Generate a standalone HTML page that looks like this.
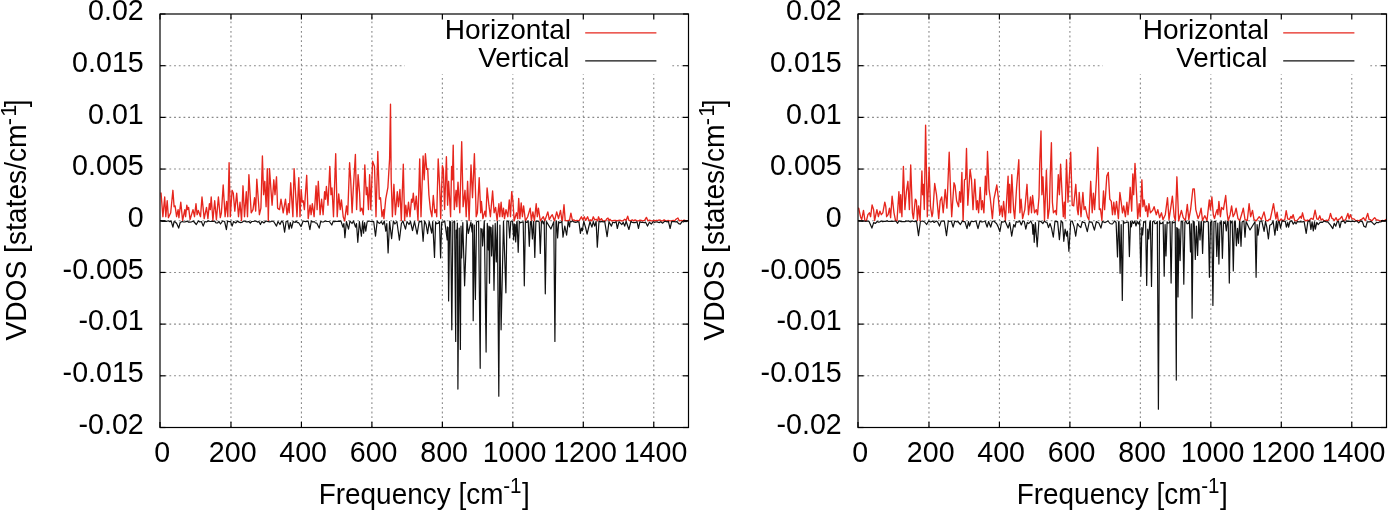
<!DOCTYPE html>
<html><head><meta charset="utf-8"><title>VDOS</title>
<style>
html,body{margin:0;padding:0;background:#fff;}
body{width:1388px;height:510px;overflow:hidden;}
svg{display:block;will-change:transform;filter:blur(0.5px);}
.tl{font-family:"Liberation Sans",sans-serif;font-size:29.2px;fill:#000;}
.g{stroke:#888888;stroke-width:1.1;stroke-dasharray:1.8 2.9;fill:none;}
.t{stroke:#000;stroke-width:1.2;fill:none;}
.b{stroke:#000;stroke-width:1.2;fill:none;}
.r{stroke:#e6261d;stroke-width:1.35;fill:none;stroke-linejoin:round;}
.k{stroke:#111;stroke-width:1.2;fill:none;stroke-linejoin:round;}
</style></head><body>
<svg width="1388" height="510" viewBox="0 0 1388 510">
<rect width="1388" height="510" fill="#fff"/>
<line x1="160.00" y1="65.69" x2="688.50" y2="65.69" class="g"/>
<line x1="160.00" y1="117.38" x2="688.50" y2="117.38" class="g"/>
<line x1="160.00" y1="169.06" x2="688.50" y2="169.06" class="g"/>
<line x1="160.00" y1="220.75" x2="688.50" y2="220.75" class="g"/>
<line x1="160.00" y1="272.44" x2="688.50" y2="272.44" class="g"/>
<line x1="160.00" y1="324.12" x2="688.50" y2="324.12" class="g"/>
<line x1="160.00" y1="375.81" x2="688.50" y2="375.81" class="g"/>
<line x1="230.97" y1="427.50" x2="230.97" y2="14.00" class="g"/>
<line x1="301.43" y1="427.50" x2="301.43" y2="14.00" class="g"/>
<line x1="371.90" y1="427.50" x2="371.90" y2="14.00" class="g"/>
<line x1="442.37" y1="427.50" x2="442.37" y2="14.00" class="g"/>
<line x1="512.83" y1="427.50" x2="512.83" y2="14.00" class="g"/>
<line x1="583.30" y1="427.50" x2="583.30" y2="14.00" class="g"/>
<line x1="653.77" y1="427.50" x2="653.77" y2="14.00" class="g"/>
<path d="M161.0,192.5 L162.9,216.7 L164.7,197.0 L165.8,216.7 L167.2,200.7 L168.4,217.7 L170.7,212.8 L172.9,190.3 L174.1,206.7 L175.1,205.9 L176.6,216.7 L178.1,209.6 L178.9,217.7 L180.8,202.2 L182.6,220.5 L184.8,209.6 L185.6,216.7 L186.8,205.2 L187.7,209.6 L188.6,207.4 L190.1,219.6 L193.0,209.6 L194.5,216.7 L196.0,203.7 L197.1,214.7 L198.3,210.4 L200.5,216.7 L202.0,197.0 L204.2,218.6 L206.5,207.4 L207.9,218.6 L209.4,203.7 L210.3,209.6 L211.2,197.0 L212.9,220.5 L214.7,200.7 L216.4,219.6 L218.4,197.0 L220.3,217.7 L221.4,212.8 L223.2,185.0 L225.1,216.7 L226.6,201.4 L227.8,216.7 L229.1,162.7 L230.3,216.7 L232.1,190.3 L233.3,193.2 L234.8,211.1 L236.7,193.2 L238.5,216.7 L240.0,202.2 L241.5,220.5 L243.0,185.8 L244.5,216.7 L246.3,191.7 L247.5,216.7 L248.9,174.6 L251.2,212.8 L253.0,209.6 L254.6,197.7 L255.7,211.1 L256.8,179.1 L259.4,214.7 L260.9,208.1 L262.4,156.0 L263.6,194.7 L264.8,181.3 L266.1,206.7 L267.3,168.6 L268.3,220.5 L269.5,168.6 L271.3,194.7 L272.1,205.2 L273.8,179.8 L275.0,194.7 L276.5,176.8 L277.6,208.1 L279.5,209.6 L281.0,199.2 L283.2,212.8 L285.5,199.2 L287.0,214.7 L288.5,203.7 L289.2,212.8 L290.7,182.8 L292.9,216.7 L294.1,168.6 L297.0,216.7 L298.8,177.6 L300.0,216.7 L301.2,189.5 L302.2,202.2 L303.2,200.7 L304.4,209.6 L306.7,175.3 L308.2,218.6 L310.1,205.2 L311.1,214.7 L312.3,203.7 L314.1,216.7 L316.1,185.8 L317.1,209.6 L318.3,181.3 L320.1,214.7 L321.6,199.2 L323.1,214.7 L324.6,191.7 L325.5,199.2 L326.4,186.5 L328.0,205.2 L329.8,166.4 L331.0,194.7 L332.0,188.0 L333.5,216.7 L335.7,153.7 L337.2,216.7 L338.7,194.0 L340.2,209.6 L341.4,199.9 L343.2,216.7 L344.7,220.9 L346.5,205.9 L347.7,214.7 L349.6,162.7 L350.7,179.8 L352.1,212.8 L353.3,188.8 L355.4,154.5 L356.6,209.6 L358.1,174.6 L359.6,193.2 L360.3,211.1 L361.8,208.1 L363.3,214.7 L364.8,164.9 L366.3,194.7 L367.1,187.3 L368.5,209.6 L369.6,174.6 L370.8,209.6 L372.6,161.2 L374.5,166.4 L376.0,216.7 L377.8,151.5 L379.3,199.2 L380.5,197.7 L382.0,216.7 L383.5,209.6 L383.9,218.6 L385.7,199.2 L387.9,187.3 L389.6,158.9 L390.5,104.2 L391.2,179.8 L392.4,216.7 L393.9,184.3 L395.4,214.7 L397.3,191.7 L398.4,206.7 L399.9,189.5 L401.3,220.5 L403.3,164.2 L404.6,220.5 L405.8,205.2 L407.0,216.7 L408.5,202.2 L410.0,216.7 L411.5,199.2 L412.4,202.2 L413.3,193.2 L414.8,209.6 L416.3,196.2 L418.0,220.5 L419.7,158.9 L421.0,216.7 L423.1,156.0 L424.2,179.8 L425.4,153.7 L426.7,169.4 L427.7,168.6 L428.9,194.7 L430.4,209.6 L431.9,216.7 L433.3,195.5 L434.8,212.8 L436.0,209.6 L436.7,216.7 L438.2,158.9 L439.7,187.3 L440.7,218.6 L442.4,165.7 L443.4,169.4 L444.6,209.6 L446.4,156.7 L447.6,205.2 L448.6,181.3 L450.6,216.7 L451.6,166.4 L452.4,179.8 L453.2,145.1 L454.3,209.6 L456.1,190.3 L456.8,206.7 L458.0,182.1 L459.8,212.8 L461.7,141.7 L463.1,206.7 L465.0,190.3 L466.2,216.7 L467.6,181.3 L469.1,220.5 L471.0,164.9 L472.5,197.7 L474.4,153.7 L476.2,216.7 L477.4,212.8 L479.2,177.6 L480.7,212.8 L481.4,201.4 L482.9,218.6 L484.9,211.1 L485.9,216.7 L487.1,188.0 L488.9,205.2 L490.4,216.7 L492.6,191.0 L494.1,212.8 L495.6,207.4 L497.1,220.5 L498.9,203.7 L499.8,216.7 L501.1,202.2 L502.3,216.7 L503.5,208.1 L504.5,218.6 L506.0,209.6 L507.8,216.7 L509.3,199.9 L510.5,216.7 L511.7,191.7 L512.9,200.7 L514.2,220.9 L516.5,212.8 L517.7,218.6 L518.7,198.5 L519.9,218.6 L521.2,202.9 L522.4,216.7 L523.6,205.9 L525.4,220.9 L527.7,216.7 L530.2,208.1 L531.4,220.5 L532.9,211.9 L534.4,220.9 L536.2,203.7 L537.3,216.7 L538.4,208.1 L540.3,220.9 L543.3,216.7 L544.8,220.9 L547.8,211.9 L549.3,219.6 L550.8,216.7 L552.3,214.7 L554.5,220.9 L556.7,211.9 L558.5,218.6 L560.5,210.4 L561.9,220.5 L562.4,220.9 L564.0,204.7 L565.2,220.4 L567.1,220.9 L568.3,220.5 L569.5,220.4 L570.9,213.1 L572.4,220.4 L573.8,219.9 L575.2,220.9 L577.1,220.4 L579.0,220.9 L581.4,216.8 L582.8,219.9 L584.3,216.8 L585.7,220.4 L587.6,216.8 L589.0,220.9 L590.4,219.9 L591.9,220.9 L593.3,216.8 L594.7,219.9 L596.1,219.3 L597.6,220.9 L598.5,216.8 L599.9,220.4 L601.4,218.6 L602.8,220.9 L604.2,220.9 L605.6,220.9 L606.8,218.8 L608.0,218.0 L609.0,220.9 L609.9,219.3 L611.4,220.9 L612.8,220.7 L614.2,220.5 L615.6,220.5 L617.1,220.9 L618.5,220.3 L619.9,220.2 L621.3,220.8 L622.8,220.9 L624.7,219.3 L626.1,220.4 L627.7,216.2 L628.9,220.4 L630.4,220.9 L632.3,219.9 L633.7,220.9 L635.1,219.9 L637.0,220.9 L638.5,220.8 L639.9,220.1 L641.3,220.5 L642.7,220.9 L644.6,220.4 L646.4,217.4 L648.0,220.9 L649.6,220.2 L651.3,220.9 L652.6,220.8 L653.8,220.5 L655.1,220.9 L656.4,220.3 L657.6,220.7 L658.9,220.0 L660.2,220.1 L661.4,220.8 L662.7,220.9 L664.1,219.9 L665.6,220.9 L666.8,220.8 L668.1,220.4 L669.4,220.9 L671.3,220.9 L673.2,220.4 L674.6,220.9 L676.0,219.3 L677.9,218.0 L679.4,220.9 L681.3,220.4 L682.7,220.9 L684.1,220.1 L685.5,220.6 L687.0,220.7 L688.6,220.9" class="r"/>
<path d="M160.3,220.9 L161.5,221.1 L162.7,221.4 L163.9,221.2 L165.1,221.4 L166.3,221.5 L167.5,221.0 L168.7,220.9 L169.9,221.7 L171.1,220.9 L172.9,227.1 L174.1,221.5 L175.3,222.0 L176.7,223.5 L178.7,228.1 L180.2,222.5 L182.2,221.5 L183.5,222.0 L184.7,222.0 L186.0,221.7 L187.3,221.0 L188.6,222.2 L189.9,222.1 L191.3,222.0 L193.3,221.0 L196.3,224.5 L198.3,221.0 L199.9,222.0 L201.4,221.5 L203.2,226.1 L204.9,221.5 L206.4,222.0 L208.4,220.9 L209.6,221.3 L210.9,221.5 L212.1,221.1 L213.3,221.5 L214.5,221.0 L216.0,222.8 L217.5,223.0 L219.0,221.5 L220.5,224.0 L222.6,221.0 L224.6,221.5 L226.4,229.7 L227.6,221.0 L229.1,221.7 L230.6,221.5 L232.1,226.1 L233.6,221.5 L235.7,223.0 L237.7,221.0 L239.0,222.2 L240.4,222.6 L241.7,222.5 L243.7,221.0 L245.0,221.2 L246.3,221.9 L247.5,221.9 L248.8,221.5 L250.3,223.0 L251.8,221.5 L253.3,221.5 L254.8,221.0 L256.2,221.2 L257.5,222.1 L258.9,221.5 L260.4,224.5 L261.9,221.5 L263.9,223.0 L265.9,221.0 L267.1,221.4 L268.3,221.6 L269.6,221.8 L270.8,221.6 L272.0,221.0 L274.0,222.0 L276.5,226.1 L278.0,221.5 L280.0,224.5 L281.6,221.0 L283.1,222.5 L284.6,232.2 L286.1,221.5 L287.6,221.0 L289.1,229.1 L290.3,222.5 L291.6,228.1 L293.2,221.5 L295.2,222.5 L296.0,221.0 L297.3,222.6 L298.5,222.5 L301.1,226.6 L303.1,221.0 L304.3,221.3 L305.6,221.7 L306.9,221.4 L308.1,221.0 L309.9,229.7 L311.3,221.0 L312.8,222.1 L314.2,221.5 L315.4,223.0 L316.7,223.0 L319.2,228.1 L320.7,221.5 L322.0,221.8 L323.3,222.0 L325.3,221.0 L326.6,221.3 L328.0,221.5 L329.3,221.5 L331.8,225.0 L333.3,221.0 L334.6,221.8 L335.9,221.3 L337.1,221.5 L338.4,221.2 L339.6,221.4 L340.9,220.9 L342.9,227.1 L343.9,223.5 L344.9,237.7 L346.4,221.5 L348.5,229.1 L350.0,221.0 L352.0,223.5 L353.5,221.0 L355.5,227.1 L356.5,223.5 L357.8,242.3 L359.4,221.5 L361.4,236.2 L362.6,221.5 L363.6,233.2 L364.6,222.5 L365.8,231.2 L367.1,222.0 L369.1,221.0 L370.7,221.5 L372.2,221.6 L373.7,221.5 L375.5,236.2 L377.2,221.0 L378.5,222.8 L379.7,223.5 L381.2,221.5 L382.8,224.5 L384.3,221.0 L385.8,231.2 L386.8,223.5 L388.1,252.9 L389.6,221.5 L391.6,238.7 L393.4,221.0 L394.9,224.0 L396.9,221.5 L399.4,240.2 L401.4,223.5 L402.9,221.0 L405.5,229.1 L407.0,221.5 L409.0,224.5 L410.5,221.5 L412.5,230.7 L414.5,221.5 L417.1,234.2 L419.1,221.5 L420.3,221.8 L421.6,221.0 L423.1,241.3 L424.6,221.0 L426.1,224.5 L427.6,233.7 L429.2,221.5 L431.7,233.2 L432.7,221.5 L434.5,257.5 L435.6,221.8 L436.6,223.8 L437.6,223.4 L438.5,223.1 L439.5,221.4 L440.6,258.0 L441.7,222.0 L443.2,222.2 L444.7,220.9 L447.2,240.0 L447.4,226.8 L447.7,236.0 L448.1,227.6 L448.6,301.0 L449.7,221.2 L450.7,222.0 L451.8,329.8 L452.9,222.1 L453.8,221.7 L454.6,221.1 L455.7,341.4 L456.2,230.0 L456.8,238.0 L457.4,223.0 L457.9,389.1 L459.2,228.1 L460.4,349.5 L461.0,226.0 L461.6,258.0 L462.8,222.6 L464.6,285.8 L467.0,220.9 L468.3,233.5 L470.9,222.1 L472.1,232.0 L472.6,223.8 L473.2,320.7 L474.3,225.2 L475.4,299.4 L476.5,222.0 L478.6,221.0 L480.2,368.3 L480.9,228.4 L481.5,232.0 L482.1,229.2 L482.6,246.0 L484.3,220.9 L486.1,352.1 L487.3,223.4 L488.4,250.0 L488.9,226.0 L489.5,283.2 L490.1,226.8 L490.6,233.0 L491.1,227.6 L491.6,256.0 L492.9,225.2 L494.0,290.3 L495.2,223.4 L496.3,262.0 L497.4,221.4 L498.8,396.2 L499.9,225.2 L501.1,329.8 L503.5,221.4 L505.9,292.8 L506.9,220.9 L508.6,221.5 L509.7,238.0 L510.8,221.6 L511.7,221.0 L512.6,221.6 L513.7,240.0 L514.2,223.8 L514.7,236.0 L515.2,224.6 L515.7,242.0 L516.8,221.7 L517.1,221.5 L518.2,252.3 L519.3,221.4 L520.3,222.8 L521.2,222.4 L522.2,222.1 L523.2,221.8 L524.3,285.8 L525.4,221.0 L526.3,222.4 L527.3,222.1 L528.2,221.0 L529.3,246.3 L530.4,221.8 L531.3,221.4 L532.4,239.0 L533.5,221.5 L533.7,221.7 L534.8,257.5 L535.9,221.1 L537.0,221.3 L538.1,221.0 L539.2,222.1 L540.3,253.4 L541.4,222.0 L542.3,221.0 L543.3,223.8 L544.2,221.2 L545.3,293.8 L546.4,221.6 L550.9,229.0 L553.8,221.7 L554.9,341.4 L556.0,222.1 L556.5,221.1 L557.6,238.0 L558.7,221.7 L559.8,222.8 L560.8,222.4 L561.9,221.5 L563.0,237.2 L564.8,226.0 L566.6,235.2 L568.2,221.4 L569.6,227.0 L570.0,221.7 L571.2,221.9 L572.4,220.9 L573.6,221.9 L574.7,222.1 L575.9,222.4 L577.1,221.7 L579.0,222.2 L580.4,233.3 L581.4,228.0 L582.3,230.9 L583.8,221.3 L585.7,228.0 L587.1,234.2 L588.5,228.0 L590.0,221.7 L591.9,227.1 L593.3,221.7 L594.7,226.1 L596.1,221.3 L597.3,247.1 L599.0,221.3 L600.4,221.9 L601.8,221.4 L603.3,222.0 L604.7,221.3 L607.1,236.6 L609.0,221.7 L611.4,226.1 L612.8,222.2 L614.4,222.8 L616.1,221.7 L617.3,228.5 L619.0,221.7 L621.8,224.6 L623.2,222.2 L624.7,226.1 L626.1,221.3 L628.9,229.5 L630.9,221.3 L632.3,222.5 L633.7,222.7 L635.1,222.7 L637.0,221.7 L638.5,228.5 L639.9,221.7 L641.3,222.5 L642.7,222.2 L644.2,222.8 L645.6,222.2 L647.5,226.1 L649.4,222.2 L651.3,224.1 L653.2,221.7 L654.5,222.3 L655.7,222.0 L657.0,221.8 L658.3,222.5 L659.5,222.6 L660.8,221.7 L662.7,223.2 L664.6,221.3 L665.9,221.3 L667.1,222.0 L668.4,221.3 L670.1,228.5 L671.7,221.3 L673.1,221.7 L674.4,221.6 L675.7,221.9 L677.0,221.7 L678.6,223.6 L680.3,224.1 L682.2,221.3 L683.5,222.0 L684.8,221.2 L686.0,221.6 L687.3,221.0 L688.6,220.9" class="k"/>
<rect x="404.7" y="14.8" width="266.3" height="59.6" fill="#fff"/>
<line x1="160.00" y1="14.00" x2="165.50" y2="14.00" class="t"/>
<line x1="688.50" y1="14.00" x2="683.00" y2="14.00" class="t"/>
<line x1="160.00" y1="65.69" x2="165.50" y2="65.69" class="t"/>
<line x1="688.50" y1="65.69" x2="683.00" y2="65.69" class="t"/>
<line x1="160.00" y1="117.38" x2="165.50" y2="117.38" class="t"/>
<line x1="688.50" y1="117.38" x2="683.00" y2="117.38" class="t"/>
<line x1="160.00" y1="169.06" x2="165.50" y2="169.06" class="t"/>
<line x1="688.50" y1="169.06" x2="683.00" y2="169.06" class="t"/>
<line x1="160.00" y1="220.75" x2="165.50" y2="220.75" class="t"/>
<line x1="688.50" y1="220.75" x2="683.00" y2="220.75" class="t"/>
<line x1="160.00" y1="272.44" x2="165.50" y2="272.44" class="t"/>
<line x1="688.50" y1="272.44" x2="683.00" y2="272.44" class="t"/>
<line x1="160.00" y1="324.12" x2="165.50" y2="324.12" class="t"/>
<line x1="688.50" y1="324.12" x2="683.00" y2="324.12" class="t"/>
<line x1="160.00" y1="375.81" x2="165.50" y2="375.81" class="t"/>
<line x1="688.50" y1="375.81" x2="683.00" y2="375.81" class="t"/>
<line x1="160.00" y1="427.50" x2="165.50" y2="427.50" class="t"/>
<line x1="688.50" y1="427.50" x2="683.00" y2="427.50" class="t"/>
<line x1="160.00" y1="427.50" x2="160.00" y2="422.00" class="t"/>
<line x1="160.00" y1="14.00" x2="160.00" y2="19.50" class="t"/>
<line x1="230.97" y1="427.50" x2="230.97" y2="422.00" class="t"/>
<line x1="230.97" y1="14.00" x2="230.97" y2="19.50" class="t"/>
<line x1="301.43" y1="427.50" x2="301.43" y2="422.00" class="t"/>
<line x1="301.43" y1="14.00" x2="301.43" y2="19.50" class="t"/>
<line x1="371.90" y1="427.50" x2="371.90" y2="422.00" class="t"/>
<line x1="371.90" y1="14.00" x2="371.90" y2="19.50" class="t"/>
<line x1="442.37" y1="427.50" x2="442.37" y2="422.00" class="t"/>
<line x1="442.37" y1="14.00" x2="442.37" y2="19.50" class="t"/>
<line x1="512.83" y1="427.50" x2="512.83" y2="422.00" class="t"/>
<line x1="512.83" y1="14.00" x2="512.83" y2="19.50" class="t"/>
<line x1="583.30" y1="427.50" x2="583.30" y2="422.00" class="t"/>
<line x1="583.30" y1="14.00" x2="583.30" y2="19.50" class="t"/>
<line x1="653.77" y1="427.50" x2="653.77" y2="422.00" class="t"/>
<line x1="653.77" y1="14.00" x2="653.77" y2="19.50" class="t"/>
<rect x="160.00" y="14.00" width="528.50" height="413.50" class="b"/>
<text transform="translate(571.0,39.2) scale(0.985,1)" text-anchor="end" class="tl" style="font-size:28.5px">Horizontal</text>
<text transform="translate(569.4,66.7) scale(0.977,1)" text-anchor="end" class="tl" style="font-size:28.5px">Vertical</text>
<line x1="585.2" y1="32.8" x2="656.4" y2="32.8" class="r"/>
<line x1="585.2" y1="60.8" x2="656.4" y2="60.8" class="k"/>
<text transform="translate(143.7,20.2) scale(0.980,1)" text-anchor="end" class="tl">0.02</text>
<text transform="translate(143.7,71.9) scale(0.980,1)" text-anchor="end" class="tl">0.015</text>
<text transform="translate(143.7,123.6) scale(0.980,1)" text-anchor="end" class="tl">0.01</text>
<text transform="translate(143.7,175.3) scale(0.980,1)" text-anchor="end" class="tl">0.005</text>
<text transform="translate(143.7,226.9) scale(0.980,1)" text-anchor="end" class="tl">0</text>
<text transform="translate(143.7,278.6) scale(0.980,1)" text-anchor="end" class="tl">-0.005</text>
<text transform="translate(143.7,330.3) scale(0.980,1)" text-anchor="end" class="tl">-0.01</text>
<text transform="translate(143.7,382.0) scale(0.980,1)" text-anchor="end" class="tl">-0.015</text>
<text transform="translate(143.7,433.7) scale(0.980,1)" text-anchor="end" class="tl">-0.02</text>
<text transform="translate(162.2,462.0) scale(0.980,1)" text-anchor="middle" class="tl">0</text>
<text transform="translate(232.7,462.0) scale(0.980,1)" text-anchor="middle" class="tl">200</text>
<text transform="translate(303.1,462.0) scale(0.980,1)" text-anchor="middle" class="tl">400</text>
<text transform="translate(373.6,462.0) scale(0.980,1)" text-anchor="middle" class="tl">600</text>
<text transform="translate(444.1,462.0) scale(0.980,1)" text-anchor="middle" class="tl">800</text>
<text transform="translate(514.5,462.0) scale(0.980,1)" text-anchor="middle" class="tl">1000</text>
<text transform="translate(585.0,462.0) scale(0.980,1)" text-anchor="middle" class="tl">1200</text>
<text transform="translate(655.5,462.0) scale(0.980,1)" text-anchor="middle" class="tl">1400</text>
<text transform="translate(318.7,503.8) scale(0.957,1)" class="tl">Frequency [cm<tspan dy="-10.4" dx="-0.2" font-size="21.5">-1</tspan><tspan dy="10.4" dx="0.6">]</tspan></text>
<text transform="translate(26.1,340.6) rotate(-90) scale(0.966,1)" class="tl">VDOS [states/cm<tspan dy="-10.6" dx="-0.8 1.3" font-size="22.5">-1</tspan><tspan dy="10.6" dx="-2.6">]</tspan></text>
<line x1="858.00" y1="65.69" x2="1386.50" y2="65.69" class="g"/>
<line x1="858.00" y1="117.38" x2="1386.50" y2="117.38" class="g"/>
<line x1="858.00" y1="169.06" x2="1386.50" y2="169.06" class="g"/>
<line x1="858.00" y1="220.75" x2="1386.50" y2="220.75" class="g"/>
<line x1="858.00" y1="272.44" x2="1386.50" y2="272.44" class="g"/>
<line x1="858.00" y1="324.12" x2="1386.50" y2="324.12" class="g"/>
<line x1="858.00" y1="375.81" x2="1386.50" y2="375.81" class="g"/>
<line x1="928.97" y1="427.50" x2="928.97" y2="14.00" class="g"/>
<line x1="999.43" y1="427.50" x2="999.43" y2="14.00" class="g"/>
<line x1="1069.90" y1="427.50" x2="1069.90" y2="14.00" class="g"/>
<line x1="1140.37" y1="427.50" x2="1140.37" y2="14.00" class="g"/>
<line x1="1210.83" y1="427.50" x2="1210.83" y2="14.00" class="g"/>
<line x1="1281.30" y1="427.50" x2="1281.30" y2="14.00" class="g"/>
<line x1="1351.77" y1="427.50" x2="1351.77" y2="14.00" class="g"/>
<path d="M858.2,208.1 L858.7,208.1 L860.5,216.7 L861.7,219.6 L863.5,210.4 L864.9,220.5 L866.4,220.9 L867.9,214.7 L869.4,212.8 L870.6,216.7 L872.1,204.9 L873.6,209.6 L874.6,220.5 L876.9,209.6 L878.4,216.7 L879.9,211.1 L881.3,214.7 L882.8,212.8 L884.8,202.2 L885.8,206.7 L886.6,216.7 L888.1,214.7 L889.5,208.1 L890.6,217.7 L892.1,196.2 L894.0,212.8 L895.5,220.5 L897.0,220.9 L898.9,191.7 L900.0,212.8 L900.7,194.7 L901.9,216.7 L903.4,166.4 L904.9,209.6 L906.4,191.7 L907.9,181.3 L909.4,209.6 L910.7,164.9 L912.4,212.8 L913.4,218.6 L915.3,199.2 L916.4,200.7 L917.4,220.5 L918.6,205.9 L920.1,220.5 L921.9,170.9 L922.6,194.7 L923.4,184.3 L924.3,209.6 L925.6,125.1 L927.3,216.7 L929.1,167.1 L930.5,206.7 L932.0,216.7 L932.8,212.8 L934.7,183.5 L936.5,194.7 L938.7,218.6 L940.2,200.7 L941.7,197.0 L943.2,212.8 L945.2,189.5 L946.9,208.1 L949.2,152.2 L950.7,194.7 L951.7,216.7 L954.0,182.8 L955.1,185.8 L956.6,200.7 L958.6,206.7 L959.6,191.7 L960.7,202.2 L961.9,172.4 L963.1,220.9 L964.5,179.8 L965.6,179.1 L966.5,148.4 L967.8,205.2 L970.1,169.4 L971.5,179.8 L973.0,209.6 L974.8,179.1 L976.5,209.6 L977.5,200.7 L978.6,212.8 L980.2,187.3 L981.5,209.6 L982.4,200.7 L983.9,212.8 L985.4,176.1 L986.5,194.7 L987.5,151.5 L989.0,188.8 L990.2,197.7 L992.4,218.6 L993.9,199.2 L995.0,194.0 L996.8,185.0 L998.3,197.7 L999.8,214.7 L1001.2,205.9 L1002.4,216.7 L1003.6,201.4 L1005.4,220.5 L1008.1,176.1 L1008.8,212.8 L1009.6,184.3 L1010.6,212.8 L1011.8,174.6 L1013.6,209.6 L1014.7,218.6 L1016.6,187.3 L1018.8,159.7 L1019.9,212.8 L1021.1,199.2 L1022.6,218.6 L1024.8,209.6 L1027.0,184.3 L1028.5,214.7 L1030.5,197.0 L1031.5,212.8 L1032.6,195.5 L1034.5,212.8 L1036.3,209.6 L1037.5,214.7 L1039.0,197.0 L1039.7,164.9 L1041.0,130.9 L1041.9,194.7 L1043.0,176.8 L1044.5,220.5 L1046.4,170.1 L1047.9,218.6 L1049.4,208.1 L1050.1,179.8 L1051.4,142.7 L1052.4,202.2 L1053.4,212.8 L1055.4,210.4 L1056.4,214.7 L1058.3,174.6 L1059.4,194.7 L1060.6,164.2 L1062.1,194.7 L1063.3,216.7 L1064.3,202.2 L1065.1,218.6 L1066.5,159.7 L1068.0,202.2 L1069.2,179.8 L1070.7,152.2 L1072.2,205.2 L1073.7,205.9 L1075.8,184.3 L1077.3,209.6 L1078.2,214.7 L1079.2,192.5 L1081.0,216.7 L1082.9,192.5 L1084.1,209.6 L1085.2,206.7 L1087.4,216.7 L1088.9,219.6 L1090.7,181.3 L1092.2,212.8 L1093.4,193.2 L1094.6,209.6 L1096.4,179.8 L1097.8,147.3 L1099.3,209.6 L1100.5,208.9 L1101.9,220.5 L1103.5,191.0 L1104.6,209.6 L1106.8,176.1 L1108.3,172.4 L1109.8,199.2 L1111.3,201.4 L1112.5,214.7 L1113.8,202.2 L1115.0,214.7 L1116.5,201.4 L1118.4,218.6 L1119.9,192.5 L1121.1,201.4 L1122.5,212.8 L1123.7,205.9 L1125.4,216.7 L1126.9,202.2 L1128.0,214.7 L1129.5,199.2 L1130.2,187.3 L1131.7,211.1 L1132.8,173.9 L1133.7,194.7 L1135.0,163.4 L1136.6,194.7 L1137.7,218.6 L1139.2,203.7 L1140.2,216.7 L1141.9,179.8 L1142.9,206.7 L1144.1,199.9 L1145.6,211.1 L1146.6,205.9 L1147.7,216.7 L1148.9,203.7 L1150.4,212.8 L1152.6,210.4 L1154.1,206.7 L1156.3,214.7 L1157.8,209.6 L1159.6,217.7 L1161.5,212.8 L1163.0,219.6 L1165.3,214.7 L1167.5,197.7 L1169.0,219.6 L1170.5,209.6 L1172.4,196.2 L1174.2,216.7 L1175.4,220.5 L1176.9,176.8 L1178.7,220.9 L1181.4,210.4 L1183.2,217.7 L1185.4,220.5 L1187.3,204.4 L1188.8,219.6 L1190.6,209.6 L1192.9,188.8 L1194.3,188.8 L1195.8,209.6 L1198.1,218.6 L1199.6,214.7 L1201.1,208.1 L1202.5,220.5 L1204.8,215.7 L1207.0,220.5 L1209.3,199.9 L1210.4,209.6 L1211.9,197.0 L1213.3,214.7 L1214.5,218.6 L1216.0,212.8 L1217.2,209.6 L1217.9,214.7 L1218.9,201.4 L1220.4,216.7 L1221.6,207.4 L1223.4,209.6 L1225.7,195.5 L1227.1,212.8 L1228.2,220.9 L1230.1,214.7 L1231.6,205.9 L1233.1,216.7 L1234.6,213.8 L1236.1,208.1 L1238.0,218.6 L1239.8,220.5 L1242.1,212.8 L1243.3,208.1 L1245.0,219.6 L1247.3,220.5 L1249.1,203.7 L1250.6,216.7 L1252.5,210.4 L1254.0,219.6 L1256.2,220.9 L1259.2,216.7 L1261.4,219.6 L1264.0,211.9 L1265.9,220.5 L1267.9,220.9 L1269.1,219.3 L1270.2,219.5 L1272.1,210.7 L1273.5,203.6 L1274.9,212.8 L1275.9,218.9 L1277.1,212.2 L1278.2,220.1 L1279.7,220.9 L1281.1,218.9 L1282.9,220.9 L1284.8,219.5 L1286.2,210.7 L1287.7,218.9 L1289.5,219.5 L1290.9,216.4 L1291.9,218.3 L1293.1,214.6 L1294.7,220.6 L1296.6,220.9 L1298.5,218.9 L1300.4,216.4 L1301.3,218.3 L1302.5,212.8 L1304.1,219.5 L1306.0,220.9 L1307.4,220.0 L1308.8,220.9 L1310.0,219.5 L1311.2,218.3 L1313.1,219.5 L1315.1,210.2 L1316.8,218.9 L1318.2,219.5 L1319.8,215.8 L1321.1,220.1 L1322.5,218.9 L1323.9,220.9 L1325.1,220.8 L1326.4,220.1 L1327.7,220.9 L1329.1,218.9 L1330.5,213.4 L1331.9,218.3 L1333.1,218.8 L1334.2,220.6 L1336.1,217.7 L1337.5,220.9 L1338.7,219.3 L1339.9,218.9 L1341.8,216.4 L1343.2,220.6 L1344.4,220.1 L1345.5,220.1 L1347.9,213.4 L1349.1,218.9 L1350.3,214.6 L1352.1,218.9 L1354.0,218.9 L1355.9,220.9 L1357.5,220.4 L1359.2,220.9 L1360.4,219.7 L1361.5,219.5 L1363.4,217.7 L1365.3,220.6 L1367.7,213.4 L1369.1,219.5 L1370.5,219.7 L1371.9,220.9 L1373.3,219.1 L1374.7,217.7 L1376.6,220.1 L1378.0,220.0 L1379.4,220.6 L1381.3,220.9 L1382.7,220.5 L1384.1,220.9 L1386.0,219.5 L1386.4,220.0" class="r"/>
<path d="M858.2,220.9 L859.5,221.1 L860.7,221.0 L862.0,221.3 L863.3,221.1 L864.6,221.0 L865.8,221.3 L867.1,221.0 L869.1,221.5 L871.9,228.1 L873.7,222.5 L875.2,223.5 L877.2,221.5 L878.5,222.1 L879.9,221.8 L881.2,220.9 L882.6,221.7 L883.9,221.4 L885.3,221.3 L887.3,220.9 L888.6,221.5 L890.0,221.4 L891.3,221.3 L892.8,221.3 L894.3,221.2 L895.8,221.0 L897.6,223.3 L898.9,220.9 L900.1,221.1 L901.3,221.7 L902.5,221.6 L903.7,221.6 L904.9,221.6 L906.1,221.1 L907.3,221.2 L908.4,220.9 L910.5,222.0 L912.0,220.9 L913.5,221.5 L915.0,221.6 L916.5,220.9 L918.5,235.7 L920.4,221.5 L922.6,221.0 L924.6,222.0 L926.6,224.5 L928.6,221.0 L930.0,221.8 L931.3,221.8 L932.7,221.0 L934.2,222.5 L936.2,221.0 L937.7,222.0 L939.5,226.1 L941.2,221.0 L942.7,221.1 L944.3,221.0 L946.5,235.7 L948.3,221.0 L949.8,221.5 L951.3,221.0 L953.1,227.1 L954.8,221.0 L956.4,221.8 L957.9,221.5 L960.4,224.5 L962.4,221.0 L963.7,221.7 L964.9,221.5 L967.0,228.6 L968.5,221.5 L969.5,226.1 L971.0,221.5 L972.2,221.5 L973.5,221.7 L974.8,221.2 L976.0,221.0 L978.0,228.6 L979.9,221.0 L981.2,221.8 L982.5,221.8 L983.8,221.5 L985.1,221.0 L987.1,227.1 L988.6,221.5 L990.7,227.1 L992.2,221.5 L994.0,221.0 L995.3,222.5 L996.5,223.5 L998.1,226.6 L999.9,231.7 L1001.6,221.5 L1002.8,222.1 L1003.9,221.7 L1005.1,221.0 L1008.1,228.1 L1009.7,222.5 L1011.7,236.2 L1013.7,224.5 L1015.0,227.1 L1016.2,221.5 L1017.4,222.1 L1018.6,221.9 L1019.7,221.0 L1021.3,225.0 L1022.8,221.0 L1024.3,221.5 L1025.8,229.1 L1027.3,222.5 L1028.8,223.5 L1030.8,221.0 L1032.3,224.5 L1032.9,234.2 L1033.6,224.5 L1034.2,242.3 L1035.4,222.5 L1037.2,246.8 L1038.9,221.0 L1040.9,221.5 L1042.9,223.5 L1044.4,221.0 L1045.7,222.2 L1047.0,222.5 L1048.5,227.6 L1050.0,223.5 L1051.5,228.1 L1053.3,237.2 L1055.0,221.0 L1056.3,221.6 L1057.6,221.5 L1059.4,239.7 L1061.1,221.0 L1062.6,222.5 L1063.8,241.3 L1065.1,229.1 L1066.6,236.2 L1067.4,231.2 L1068.9,251.3 L1070.7,221.5 L1072.2,221.0 L1074.2,227.1 L1075.7,236.2 L1077.5,223.5 L1079.2,226.1 L1080.8,227.6 L1082.3,221.5 L1083.5,222.5 L1084.8,222.5 L1087.3,231.7 L1089.3,221.5 L1090.6,222.1 L1091.9,222.0 L1094.4,230.2 L1096.4,221.5 L1097.7,222.4 L1098.9,223.0 L1100.9,228.1 L1102.4,221.5 L1103.6,221.9 L1104.8,222.6 L1106.0,222.0 L1108.0,221.0 L1110.0,223.5 L1111.3,223.8 L1112.5,224.0 L1114.6,221.0 L1116.1,222.5 L1117.5,257.0 L1118.6,221.8 L1119.0,221.4 L1120.1,273.3 L1121.2,224.6 L1122.3,300.4 L1123.4,221.1 L1124.4,223.1 L1125.4,222.8 L1126.3,222.4 L1127.3,222.1 L1128.3,222.1 L1129.4,256.6 L1130.5,221.4 L1131.3,227.0 L1132.4,221.2 L1133.6,223.4 L1134.8,221.0 L1136.0,226.0 L1137.2,221.4 L1138.4,223.9 L1139.6,221.2 L1140.9,276.2 L1141.8,227.6 L1142.6,235.0 L1143.7,221.6 L1144.6,222.1 L1145.6,221.6 L1146.7,285.4 L1147.7,229.2 L1148.7,239.0 L1149.8,222.1 L1150.4,221.1 L1151.5,286.5 L1152.6,221.7 L1153.8,221.0 L1155.0,223.8 L1156.1,223.4 L1157.3,221.5 L1158.4,409.2 L1159.5,221.4 L1160.7,223.8 L1161.9,223.4 L1163.1,221.8 L1164.2,276.2 L1165.1,224.6 L1166.0,256.0 L1167.1,221.8 L1168.1,223.1 L1169.0,222.8 L1170.0,221.4 L1171.1,283.1 L1172.2,221.5 L1173.2,222.8 L1174.2,222.4 L1175.2,221.7 L1176.3,380.1 L1176.8,227.6 L1177.2,240.0 L1177.6,228.4 L1178.0,296.9 L1179.0,229.2 L1180.1,260.6 L1181.2,221.2 L1181.9,221.3 L1182.7,222.0 L1183.8,284.2 L1184.9,222.1 L1186.0,221.0 L1187.1,223.8 L1188.3,223.4 L1189.4,221.1 L1190.5,252.0 L1191.3,223.8 L1192.1,318.2 L1193.2,221.4 L1194.2,221.8 L1195.3,259.5 L1196.4,226.0 L1197.6,255.4 L1198.7,221.8 L1198.9,221.4 L1200.0,240.0 L1201.1,221.5 L1201.5,221.7 L1202.6,253.4 L1203.7,221.1 L1204.8,222.1 L1206.0,221.7 L1207.1,221.3 L1208.3,222.1 L1209.4,277.3 L1210.5,222.0 L1211.2,221.7 L1211.8,221.2 L1212.9,305.4 L1214.0,221.6 L1214.8,221.3 L1215.7,221.6 L1216.8,256.4 L1217.8,223.0 L1218.9,264.1 L1220.0,222.1 L1220.7,223.8 L1221.3,221.1 L1222.4,258.3 L1223.5,221.7 L1224.3,223.4 L1225.2,221.5 L1226.3,231.0 L1227.4,221.4 L1228.2,221.8 L1229.3,283.1 L1230.4,221.0 L1231.3,222.8 L1232.2,221.0 L1233.3,271.0 L1234.4,221.8 L1235.3,221.4 L1236.4,245.8 L1237.5,228.4 L1238.5,243.3 L1239.6,221.1 L1239.9,222.1 L1241.0,246.3 L1242.1,222.0 L1243.0,221.3 L1243.9,221.2 L1245.0,237.2 L1246.1,221.6 L1250.0,230.0 L1255.0,221.7 L1256.1,277.3 L1257.1,224.6 L1258.1,235.2 L1259.9,221.4 L1261.8,220.9 L1264.1,231.4 L1265.5,221.4 L1266.9,227.7 L1268.4,239.0 L1269.8,225.2 L1271.6,224.2 L1273.1,220.9 L1274.9,235.2 L1276.4,221.4 L1277.3,230.5 L1278.2,221.9 L1279.2,221.4 L1280.6,228.1 L1282.0,220.9 L1283.7,221.2 L1285.3,221.4 L1286.4,227.2 L1287.7,222.3 L1288.6,227.2 L1290.0,221.4 L1291.9,220.9 L1293.3,224.2 L1294.7,221.9 L1296.1,223.8 L1297.5,221.4 L1298.9,222.0 L1300.2,221.7 L1301.5,221.9 L1302.8,221.8 L1304.1,221.4 L1306.2,233.3 L1307.9,221.4 L1309.8,220.9 L1310.9,229.5 L1312.1,221.9 L1313.3,230.9 L1314.5,221.9 L1315.4,229.1 L1316.8,222.3 L1318.2,224.7 L1320.1,222.3 L1321.4,222.2 L1322.6,222.3 L1323.9,220.9 L1325.1,221.4 L1326.4,221.9 L1327.7,221.9 L1330.5,225.2 L1332.8,228.6 L1334.2,223.3 L1335.7,226.2 L1337.1,221.9 L1338.5,221.4 L1339.9,227.7 L1341.3,221.4 L1342.5,221.4 L1343.7,220.9 L1345.1,223.3 L1346.5,220.9 L1347.6,221.5 L1348.8,221.2 L1349.9,221.3 L1351.1,221.6 L1352.2,221.2 L1353.4,221.4 L1354.5,221.7 L1355.7,221.0 L1356.8,220.9 L1358.7,222.8 L1360.6,220.9 L1362.5,221.9 L1363.9,226.2 L1365.8,227.2 L1367.2,221.9 L1368.5,221.8 L1369.7,221.8 L1371.0,221.4 L1374.3,224.7 L1376.6,222.3 L1378.0,222.8 L1379.4,221.9 L1380.8,222.0 L1382.3,220.9 L1383.5,221.1 L1384.8,221.2 L1386.0,220.9 L1386.4,221.0" class="k"/>
<rect x="1102.7" y="14.8" width="266.3" height="59.6" fill="#fff"/>
<line x1="858.00" y1="14.00" x2="863.50" y2="14.00" class="t"/>
<line x1="1386.50" y1="14.00" x2="1381.00" y2="14.00" class="t"/>
<line x1="858.00" y1="65.69" x2="863.50" y2="65.69" class="t"/>
<line x1="1386.50" y1="65.69" x2="1381.00" y2="65.69" class="t"/>
<line x1="858.00" y1="117.38" x2="863.50" y2="117.38" class="t"/>
<line x1="1386.50" y1="117.38" x2="1381.00" y2="117.38" class="t"/>
<line x1="858.00" y1="169.06" x2="863.50" y2="169.06" class="t"/>
<line x1="1386.50" y1="169.06" x2="1381.00" y2="169.06" class="t"/>
<line x1="858.00" y1="220.75" x2="863.50" y2="220.75" class="t"/>
<line x1="1386.50" y1="220.75" x2="1381.00" y2="220.75" class="t"/>
<line x1="858.00" y1="272.44" x2="863.50" y2="272.44" class="t"/>
<line x1="1386.50" y1="272.44" x2="1381.00" y2="272.44" class="t"/>
<line x1="858.00" y1="324.12" x2="863.50" y2="324.12" class="t"/>
<line x1="1386.50" y1="324.12" x2="1381.00" y2="324.12" class="t"/>
<line x1="858.00" y1="375.81" x2="863.50" y2="375.81" class="t"/>
<line x1="1386.50" y1="375.81" x2="1381.00" y2="375.81" class="t"/>
<line x1="858.00" y1="427.50" x2="863.50" y2="427.50" class="t"/>
<line x1="1386.50" y1="427.50" x2="1381.00" y2="427.50" class="t"/>
<line x1="858.00" y1="427.50" x2="858.00" y2="422.00" class="t"/>
<line x1="858.00" y1="14.00" x2="858.00" y2="19.50" class="t"/>
<line x1="928.97" y1="427.50" x2="928.97" y2="422.00" class="t"/>
<line x1="928.97" y1="14.00" x2="928.97" y2="19.50" class="t"/>
<line x1="999.43" y1="427.50" x2="999.43" y2="422.00" class="t"/>
<line x1="999.43" y1="14.00" x2="999.43" y2="19.50" class="t"/>
<line x1="1069.90" y1="427.50" x2="1069.90" y2="422.00" class="t"/>
<line x1="1069.90" y1="14.00" x2="1069.90" y2="19.50" class="t"/>
<line x1="1140.37" y1="427.50" x2="1140.37" y2="422.00" class="t"/>
<line x1="1140.37" y1="14.00" x2="1140.37" y2="19.50" class="t"/>
<line x1="1210.83" y1="427.50" x2="1210.83" y2="422.00" class="t"/>
<line x1="1210.83" y1="14.00" x2="1210.83" y2="19.50" class="t"/>
<line x1="1281.30" y1="427.50" x2="1281.30" y2="422.00" class="t"/>
<line x1="1281.30" y1="14.00" x2="1281.30" y2="19.50" class="t"/>
<line x1="1351.77" y1="427.50" x2="1351.77" y2="422.00" class="t"/>
<line x1="1351.77" y1="14.00" x2="1351.77" y2="19.50" class="t"/>
<rect x="858.00" y="14.00" width="528.50" height="413.50" class="b"/>
<text transform="translate(1269.0,39.2) scale(0.985,1)" text-anchor="end" class="tl" style="font-size:28.5px">Horizontal</text>
<text transform="translate(1267.4,66.7) scale(0.977,1)" text-anchor="end" class="tl" style="font-size:28.5px">Vertical</text>
<line x1="1283.2" y1="32.8" x2="1354.4" y2="32.8" class="r"/>
<line x1="1283.2" y1="60.8" x2="1354.4" y2="60.8" class="k"/>
<text transform="translate(841.7,20.2) scale(0.980,1)" text-anchor="end" class="tl">0.02</text>
<text transform="translate(841.7,71.9) scale(0.980,1)" text-anchor="end" class="tl">0.015</text>
<text transform="translate(841.7,123.6) scale(0.980,1)" text-anchor="end" class="tl">0.01</text>
<text transform="translate(841.7,175.3) scale(0.980,1)" text-anchor="end" class="tl">0.005</text>
<text transform="translate(841.7,226.9) scale(0.980,1)" text-anchor="end" class="tl">0</text>
<text transform="translate(841.7,278.6) scale(0.980,1)" text-anchor="end" class="tl">-0.005</text>
<text transform="translate(841.7,330.3) scale(0.980,1)" text-anchor="end" class="tl">-0.01</text>
<text transform="translate(841.7,382.0) scale(0.980,1)" text-anchor="end" class="tl">-0.015</text>
<text transform="translate(841.7,433.7) scale(0.980,1)" text-anchor="end" class="tl">-0.02</text>
<text transform="translate(860.2,462.0) scale(0.980,1)" text-anchor="middle" class="tl">0</text>
<text transform="translate(930.7,462.0) scale(0.980,1)" text-anchor="middle" class="tl">200</text>
<text transform="translate(1001.1,462.0) scale(0.980,1)" text-anchor="middle" class="tl">400</text>
<text transform="translate(1071.6,462.0) scale(0.980,1)" text-anchor="middle" class="tl">600</text>
<text transform="translate(1142.1,462.0) scale(0.980,1)" text-anchor="middle" class="tl">800</text>
<text transform="translate(1212.5,462.0) scale(0.980,1)" text-anchor="middle" class="tl">1000</text>
<text transform="translate(1283.0,462.0) scale(0.980,1)" text-anchor="middle" class="tl">1200</text>
<text transform="translate(1353.5,462.0) scale(0.980,1)" text-anchor="middle" class="tl">1400</text>
<text transform="translate(1016.7,503.8) scale(0.957,1)" class="tl">Frequency [cm<tspan dy="-10.4" dx="-0.2" font-size="21.5">-1</tspan><tspan dy="10.4" dx="0.6">]</tspan></text>
<text transform="translate(724.1,340.6) rotate(-90) scale(0.966,1)" class="tl">VDOS [states/cm<tspan dy="-10.6" dx="-0.8 1.3" font-size="22.5">-1</tspan><tspan dy="10.6" dx="-2.6">]</tspan></text>
</svg>
</body></html>
